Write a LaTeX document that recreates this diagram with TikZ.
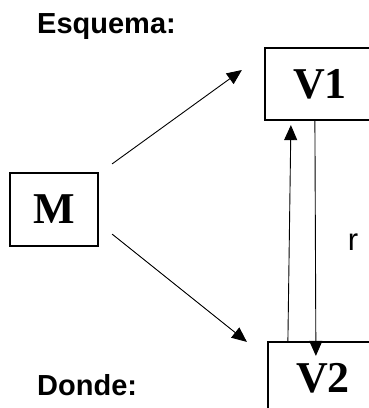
\documentclass[tikz,border=0pt]{standalone}
\usepackage{fontspec}
\setmainfont{Liberation Sans}
\newfontfamily\serifbox{Liberation Serif}
\usetikzlibrary{arrows.meta}

\begin{document}
\begin{tikzpicture}[x=1pt, y=-1pt,
    box/.style={draw=black, line width=2.2pt, inner sep=0pt,
      font=\serifbox\bfseries\fontsize{44}{44}\selectfont},
    conn/.style={line width=0.9pt, -{Triangle[length=15pt,width=13pt]}},
    heading/.style={anchor=base west, inner sep=0pt, font=\bfseries\fontsize{29}{29}\selectfont}]
    \useasboundingbox (0,0) rectangle (369,408);
    \clip (0,0) rectangle (369,408);
    \node[heading] (E) at (37,33) {Esquema:};
    \node[heading] (D) at (37,395) {Donde:};
    \node[box, minimum width=88pt, minimum height=73pt] (M) at (54,209.5) {M};
    \node[box, minimum width=110pt, minimum height=72pt] (V1) at (320,84) {V1};
    \node[box, minimum width=110pt, minimum height=72pt] (V2) at (323,378) {V2};
    \node[anchor=base, inner sep=0pt, font=\fontsize{31}{31}\selectfont] (R) at (353,250) {r};
    \draw[conn] ([shift={(13,-8)}]M.north east) -- ([shift={(-22,-14)}]V1.west);
    \draw[conn] ([shift={(13,-13)}]M.south east) -- ([shift={(-20,1)}]V2.north west);
    \draw[conn] ([shift={(21,0)}]V2.north west) -- ([shift={(27,4)}]V1.south west);
    \draw[conn] ([shift={(51,0)}]V1.south west) -- ([shift={(49,15)}]V2.north west);
\end{tikzpicture}
\end{document}
